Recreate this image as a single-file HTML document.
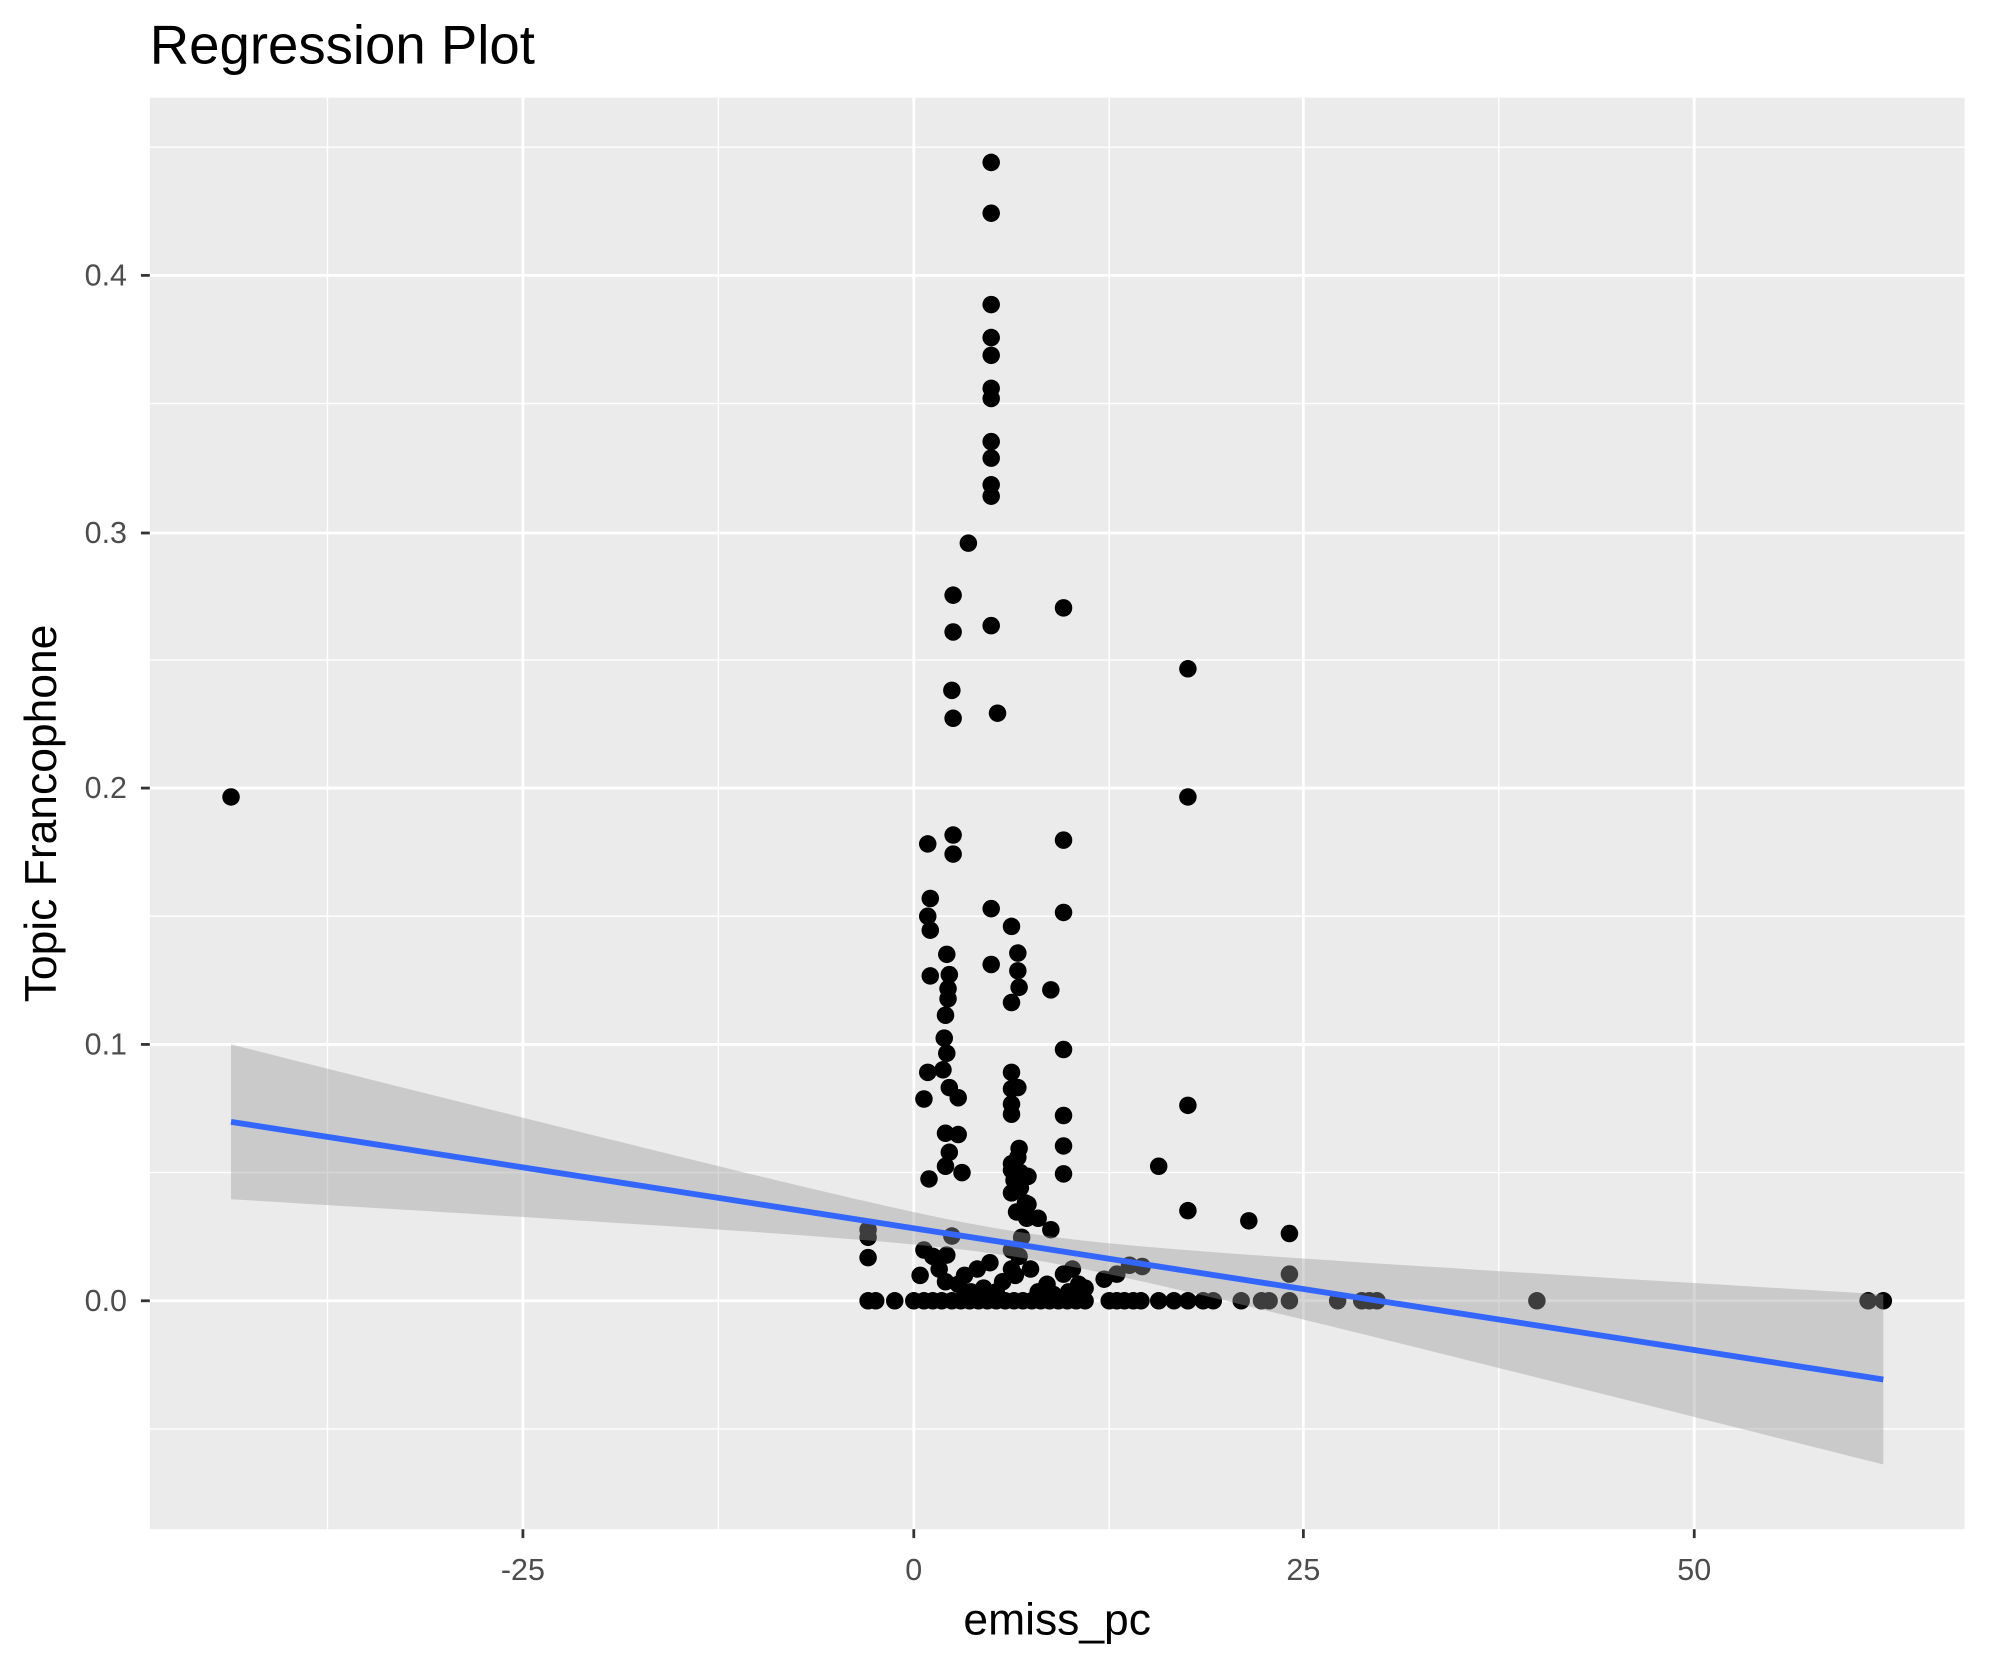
<!DOCTYPE html>
<html><head><meta charset="utf-8"><style>html,body{margin:0;padding:0;background:#fff}svg{display:block}</style></head>
<body>
<svg id="s" width="1990" height="1665" viewBox="0 0 1568 1312" xmlns="http://www.w3.org/2000/svg" font-family="Liberation Sans, Arial, sans-serif">
<rect width="1568" height="1312" fill="#fff"/>
<rect x="118" y="77" width="1430" height="1128" fill="#ebebeb"/>
<g stroke="#fff" stroke-width="1.1">
<line x1="258" y1="77" x2="258" y2="1205"/><line x1="566" y1="77" x2="566" y2="1205"/><line x1="874" y1="77" x2="874" y2="1205"/><line x1="1181" y1="77" x2="1181" y2="1205"/>
<line x1="118" y1="1126" x2="1548" y2="1126"/><line x1="118" y1="924" x2="1548" y2="924"/><line x1="118" y1="722" x2="1548" y2="722"/><line x1="118" y1="520" x2="1548" y2="520"/><line x1="118" y1="318" x2="1548" y2="318"/><line x1="118" y1="116" x2="1548" y2="116"/>
</g>
<g stroke="#fff" stroke-width="2.2">
<line x1="412" y1="77" x2="412" y2="1205"/><line x1="720" y1="77" x2="720" y2="1205"/><line x1="1027" y1="77" x2="1027" y2="1205"/><line x1="1335" y1="77" x2="1335" y2="1205"/>
<line x1="118" y1="1025" x2="1548" y2="1025"/><line x1="118" y1="823" x2="1548" y2="823"/><line x1="118" y1="621" x2="1548" y2="621"/><line x1="118" y1="420" x2="1548" y2="420"/><line x1="118" y1="217" x2="1548" y2="217"/>
</g>
<g id="pts" fill="#000"></g>
<polygon id="rib" fill="#999" fill-opacity="0.4"/>
<line x1="182" y1="884" x2="1484" y2="1087" stroke="#3366ff" stroke-width="4.6"/>
<g stroke="#333" stroke-width="2.2">
<line x1="412" y1="1205" x2="412" y2="1212"/><line x1="720" y1="1205" x2="720" y2="1212"/><line x1="1027" y1="1205" x2="1027" y2="1212"/><line x1="1335" y1="1205" x2="1335" y2="1212"/>
<line x1="111" y1="1025" x2="118" y2="1025"/><line x1="111" y1="823" x2="118" y2="823"/><line x1="111" y1="621" x2="118" y2="621"/><line x1="111" y1="420" x2="118" y2="420"/><line x1="111" y1="217" x2="118" y2="217"/>
</g>
<g fill="#4d4d4d" font-size="24" text-anchor="middle">
<text x="412" y="1245">-25</text><text x="720" y="1245">0</text><text x="1027" y="1245">25</text><text x="1335" y="1245">50</text>
</g>
<g fill="#4d4d4d" font-size="24" text-anchor="end">
<text x="100" y="1033">0.0</text><text x="100" y="831">0.1</text><text x="100" y="629">0.2</text><text x="100" y="428">0.3</text><text x="100" y="225">0.4</text>
</g>
<text x="833" y="1288" font-size="35" text-anchor="middle" fill="#000">emiss_pc</text>
<text transform="translate(44,641) rotate(-90)" font-size="35" text-anchor="middle" fill="#000">Topic Francophone</text>
<text x="118" y="50" font-size="43" fill="#000">Regression Plot</text>
</svg>
<script>
(function(){
var ns="http://www.w3.org/2000/svg";
function cy(x){return 884+(x-182)*(203/1302);}
function off(x){return Math.sqrt(100+0.00943*(x-801.7)*(x-801.7));}
var up=[],lo=[];
for(var x=182;x<=1484;x+=14){up.push(x+","+(cy(x)-off(x)).toFixed(1));lo.unshift(x+","+(cy(x)+off(x)).toFixed(1));}
up.push("1484,"+(cy(1484)-off(1484)).toFixed(1));lo.unshift("1484,"+(cy(1484)+off(1484)).toFixed(1));
document.getElementById("rib").setAttribute("points",up.concat(lo).join(" "));
var P=[[182,628],[781,128],[781,168],[781,240],[781,266],[781,280],[781,306],[781,314],[781,348],[781,361],[781,382],[781,391],[781,493],[781,716],[781,760],[786,562],[763,428],
[751,469],[751,498],[750,544],[751,566],[751,658],[751,673],[838,479],[838,662],[838,719],[838,827],[838,879],[838,903],[838,925],[936,527],[936,628],[936,871],[936,954],[913,919],[984,962],[1016,972],[1016,1004],[684,969],[684,975],[684,991],
[731,665],[733,708],[731,722],[733,733],[733,769],[731,845],[728,866],[732,929],[746,752],[748,768],[747,779],[747,787],[745,800],[744,818],[746,830],[743,843],[748,857],[745,893],[748,908],[745,919],[750,974],[746,989],[755,865],[755,894],[758,924],
[797,730],[797,790],[797,845],[797,858],[797,870],[797,878],[797,917],[797,922],[799,930],[797,940],[801,955],[797,985],[797,1000],[802,751],[802,765],[803,778],[802,857],[803,905],[802,912],[804,924],[804,936],[808,948],[809,960],[805,975],[803,990],[810,927],[810,949],[818,960],[828,780],[828,969],
[728,985],[735,990],[740,1000],[760,1005],[770,1000],[780,995],[790,1010],[800,1005],[812,1000],[825,1012],[838,1004],[845,1000],[850,1012],[855,1015],[870,1008],[880,1004],[890,997],[900,998],[725,1005],[745,1010],[755,1012],[765,1018],[775,1015],[785,1018],[818,1018],[830,1020],[842,1018],[852,1020]];
var B=[684,690,705,720,728,735,742,750,757,764,771,778,785,792,799,806,813,820,827,834,841,848,855,874,880,886,893,899,913,925,936,948,956,978,994,1000,1016,1054,1073,1079,1085,1211,1472,1484];
B.forEach(function(x){P.push([x,1025]);});
var g=document.getElementById("pts");
P.forEach(function(p){var c=document.createElementNS(ns,"circle");c.setAttribute("cx",p[0]);c.setAttribute("cy",p[1]);c.setAttribute("r",6.9);g.appendChild(c);});
})();
</script>
</body></html>
